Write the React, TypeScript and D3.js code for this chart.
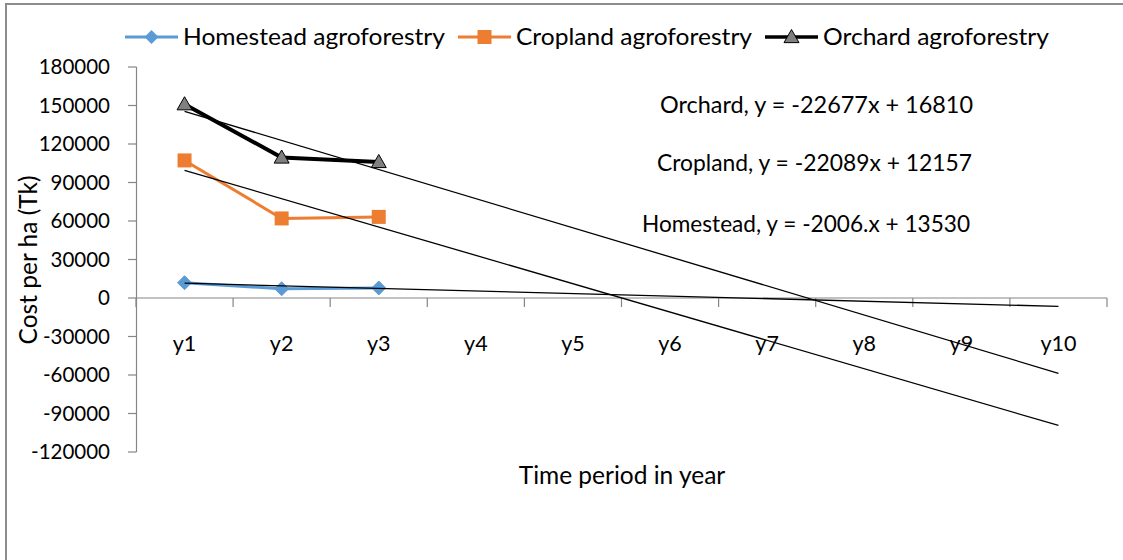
import React from "react";
import * as d3 from "d3";

const categories = ["y1", "y2", "y3", "y4", "y5", "y6", "y7", "y8", "y9", "y10"];
const homestead = [11900, 7200, 7800];
const cropland = [107200, 62000, 63200];
const orchard = [151000, 109500, 106000];
const yTicks = [180000, 150000, 120000, 90000, 60000, 30000, 0, -30000, -60000, -90000, -120000];
// trendline equations (slope, intercept) as fitted
const trendOrchard = { slope: -22677, intercept: 168100, label: "Orchard, y = -22677x + 16810" };
const trendCropland = { slope: -22089, intercept: 121570, label: "Cropland, y = -22089x + 12157" };
const trendHomestead = { slope: -2006, intercept: 13530, label: "Homestead, y = -2006.x + 13530" };

const FONT = "Lato, 'Open Sans', sans-serif";

export default function App() {
  const W = 1123, H = 560;
  const x = d3.scaleBand<string>().domain(categories).range([136, 1107]);
  const y = d3.scaleLinear().domain([-120000, 180000]).range([452, 67]);
  const cx = (i: number) => (x(categories[i]) as number) + x.bandwidth() / 2;
  const line = d3.line<number>().x((_, i) => cx(i)).y((v) => y(v));

  const trends = [trendOrchard, trendCropland, trendHomestead];
  const trendPath = (t: { slope: number; intercept: number }) =>
    d3.line<number>().x((i) => cx(i)).y((i) => y(t.slope * (i + 1) + t.intercept))([0, categories.length - 1]);

  const diamond = (px: number, py: number, s: number) =>
    `M${px},${py - s}L${px + s},${py}L${px},${py + s}L${px - s},${py}Z`;
  const tri = (px: number, py: number, s: number) =>
    `M${px},${py - s}L${px + s},${py + s * 0.75}L${px - s},${py + s * 0.75}Z`;

  const zero = y(0);
  const boundaries = d3.range(categories.length + 1).map((i) => 136 + i * x.step());

  const legend = [
    { name: "Homestead agroforestry", x0: 125, color: "#5B9BD5", width: 3, marker: "diamond", tl: 262 },
    { name: "Cropland agroforestry", x0: 458, color: "#ED7D31", width: 3, marker: "square", tl: 236 },
    { name: "Orchard agroforestry", x0: 765, color: "#000000", width: 3.5, marker: "triangle", tl: 226 },
  ];

  return (
    <svg width={W} height={H} style={{ position: "absolute", left: 0, top: 0, background: "#fff" }}>
      <rect x={0} y={0} width={W} height={H} fill="#fff" />
      <path d={`M6,${H}L6,4L1123,4`} fill="none" stroke="#8c8c8c" strokeWidth={2} />

      {/* y axis */}
      <line x1={136.5} x2={136.5} y1={y(180000)} y2={y(-120000)} stroke="#868686" strokeWidth={1.2} />
      {yTicks.map((t) => (
        <g key={t}>
          <line x1={128} x2={136.5} y1={y(t)} y2={y(t)} stroke="#868686" strokeWidth={1.2} />
          <text x={110} y={y(t)} dy="0.35em" textAnchor="end" fontFamily={FONT} fontSize={20.5} fill="#000">
            {t}
          </text>
        </g>
      ))}

      {/* x axis */}
      <line x1={136} x2={1107} y1={zero} y2={zero} stroke="#868686" strokeWidth={1.2} />
      {boundaries.map((b, i) => (
        <line key={i} x1={b} x2={b} y1={zero} y2={zero + 9} stroke="#868686" strokeWidth={1.2} />
      ))}
      {categories.map((c, i) => (
        <text key={c} x={cx(i)} y={343} dy="0.35em" textAnchor="middle" fontFamily={FONT} fontSize={21.5} fill="#000">
          {c}
        </text>
      ))}

      {/* series */}
      <path d={line(homestead) || ""} fill="none" stroke="#5B9BD5" strokeWidth={3} strokeLinejoin="round" />
      {homestead.map((v, i) => (
        <path key={i} d={diamond(cx(i), y(v), 7)} fill="#5B9BD5" stroke="#5B9BD5" strokeWidth={1} />
      ))}
      <path d={line(cropland) || ""} fill="none" stroke="#ED7D31" strokeWidth={3} strokeLinejoin="round" />
      {cropland.map((v, i) => (
        <rect key={i} x={cx(i) - 7} y={y(v) - 7} width={14} height={14} fill="#ED7D31" />
      ))}
      <path d={line(orchard) || ""} fill="none" stroke="#000" strokeWidth={4} strokeLinejoin="round" />
      {orchard.map((v, i) => (
        <path key={i} d={tri(cx(i), y(v), 7.5)} fill="#808080" stroke="#000" strokeWidth={1} />
      ))}

      {/* trendlines */}
      {trends.map((t, i) => (
        <path key={i} d={trendPath(t) || ""} fill="none" stroke="#000" strokeWidth={1.3} />
      ))}

      {/* equations */}
      <text x={660} y={105} dy="0.35em" fontFamily={FONT} fontSize={23.5} textLength={313} lengthAdjust="spacingAndGlyphs">{trendOrchard.label}</text>
      <text x={657} y={163} dy="0.35em" fontFamily={FONT} fontSize={23.5} textLength={315} lengthAdjust="spacingAndGlyphs">{trendCropland.label}</text>
      <text x={642} y={224} dy="0.35em" fontFamily={FONT} fontSize={23.5} textLength={328} lengthAdjust="spacingAndGlyphs">{trendHomestead.label}</text>

      {/* legend */}
      {legend.map((l) => (
        <g key={l.name}>
          <line x1={l.x0} x2={l.x0 + 53} y1={37} y2={37} stroke={l.color} strokeWidth={l.width} />
          {l.marker === "diamond" && <path d={diamond(l.x0 + 26.5, 37, 7)} fill={l.color} />}
          {l.marker === "square" && <rect x={l.x0 + 26.5 - 7} y={30} width={14} height={14} fill={l.color} />}
          {l.marker === "triangle" && <path d={tri(l.x0 + 26.5, 37, 7.5)} fill="#808080" stroke="#000" strokeWidth={1} />}
          <text x={l.x0 + 58} y={37} dy="0.35em" fontFamily={FONT} fontSize={24} fill="#000" textLength={l.tl} lengthAdjust="spacingAndGlyphs">{l.name}</text>
        </g>
      ))}

      {/* axis titles */}
      <text transform="translate(28,260) rotate(-90)" dy="0.35em" textAnchor="middle" fontFamily={FONT} fontSize={24.5}>
        Cost per ha (Tk)
      </text>
      <text x={622} y={475} dy="0.35em" textAnchor="middle" fontFamily={FONT} fontSize={24.5}>
        Time period in year
      </text>
    </svg>
  );
}
